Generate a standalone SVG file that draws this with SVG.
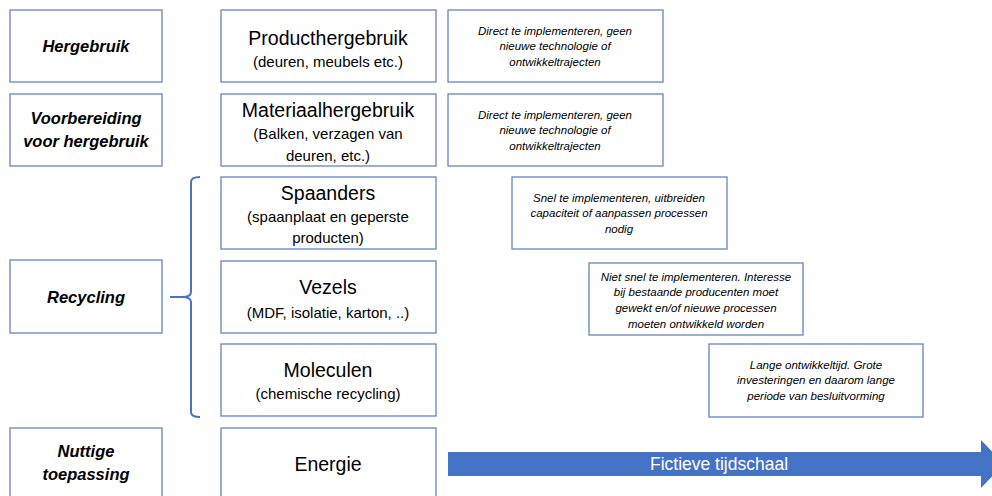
<svg xmlns="http://www.w3.org/2000/svg" width="992" height="496" viewBox="0 0 992 496">
<style>
.box{fill:#fff;stroke:#6585c2;stroke-width:1.3}
.cat{font-family:"Liberation Sans",Arial,sans-serif;font-size:16.5px;font-weight:bold;font-style:italic;fill:#000;text-anchor:middle}
.t1{font-family:"Liberation Sans",Arial,sans-serif;font-size:19.5px;fill:#000;text-anchor:middle}
.t2{font-family:"Liberation Sans",Arial,sans-serif;font-size:15px;fill:#000;text-anchor:middle}
.note{font-family:"Liberation Sans",Arial,sans-serif;font-size:11.5px;font-style:italic;fill:#000;text-anchor:middle}
</style>
<rect width="992" height="496" fill="#fff"/>
<g id="cat-hergebruik"><rect class="box" x="10" y="10" width="152" height="72"/><text class="cat" x="86" y="52">Hergebruik</text></g>
<g id="cat-voorbereiding"><rect class="box" x="10" y="94" width="152" height="72"/><text class="cat" x="86" y="124">Voorbereiding</text><text class="cat" x="86" y="147">voor hergebruik</text></g>
<g id="cat-recycling"><rect class="box" x="10" y="260" width="152" height="73"/><text class="cat" x="86" y="303">Recycling</text></g>
<g id="cat-nuttige"><rect class="box" x="10" y="428" width="152" height="80"/><text class="cat" x="86" y="457">Nuttige</text><text class="cat" x="86" y="480">toepassing</text></g>

<g id="producthergebruik"><rect class="box" x="221" y="10" width="215" height="72"/><text class="t1" x="328" y="45">Producthergebruik</text><text class="t2" x="328" y="67">(deuren, meubels etc.)</text></g>
<g id="materiaalhergebruik"><rect class="box" x="221" y="94" width="215" height="72"/><text class="t1" x="328" y="117">Materiaalhergebruik</text><text class="t2" x="328" y="139">(Balken, verzagen van</text><text class="t2" x="328" y="161">deuren, etc.)</text></g>
<g id="spaanders"><rect class="box" x="221" y="177" width="215" height="72"/><text class="t1" x="328" y="200">Spaanders</text><text class="t2" x="328" y="222">(spaanplaat en geperste</text><text class="t2" x="328" y="243">producten)</text></g>
<g id="vezels"><rect class="box" x="221" y="261" width="215" height="72"/><text class="t1" x="328" y="294">Vezels</text><text class="t2" x="328" y="318">(MDF, isolatie, karton, ..)</text></g>
<g id="moleculen"><rect class="box" x="221" y="344" width="215" height="72"/><text class="t1" x="328" y="377">Moleculen</text><text class="t2" x="328" y="399">(chemische recycling)</text></g>
<g id="energie"><rect class="box" x="221" y="428" width="215" height="80"/><text class="t1" x="328" y="471">Energie</text></g>

<g id="note1"><rect class="box" x="448" y="10" width="215" height="72"/><text class="note" x="555" y="35">Direct te implementeren, geen</text><text class="note" x="555" y="50">nieuwe technologie of</text><text class="note" x="555" y="66">ontwikkeltrajecten</text></g>
<g id="note2"><rect class="box" x="448" y="94" width="215" height="72"/><text class="note" x="555" y="119">Direct te implementeren, geen</text><text class="note" x="555" y="134">nieuwe technologie of</text><text class="note" x="555" y="150">ontwikkeltrajecten</text></g>
<g id="note3"><rect class="box" x="512" y="177" width="215" height="72"/><text class="note" x="619" y="202">Snel te implementeren, uitbreiden</text><text class="note" x="619" y="217">capaciteit of aanpassen processen</text><text class="note" x="619" y="233">nodig</text></g>
<g id="note4"><rect class="box" x="589" y="263" width="214" height="72"/><text class="note" x="696" y="281">Niet snel te implementeren. Interesse</text><text class="note" x="696" y="296">bij bestaande producenten moet</text><text class="note" x="696" y="312">gewekt en/of nieuwe processen</text><text class="note" x="696" y="328">moeten ontwikkeld worden</text></g>
<g id="note5"><rect class="box" x="709" y="344" width="214" height="73"/><text class="note" x="816" y="369">Lange ontwikkeltijd. Grote</text><text class="note" x="816" y="384">investeringen en daarom lange</text><text class="note" x="816" y="400">periode van besluitvorming</text></g>

<g id="connectors">
<path d="M200 177 Q191 177 191 182 L191 292 Q191 297 182 297 L170 297 M182 297 Q191 297 191 302 L191 412 Q191 417 200 417" fill="none" stroke="#4a72c0" stroke-width="2"/>
</g>
<g id="timeline">
<polygon points="448,452 981,452 981,440 1004,464 981,488 981,476 448,476" fill="#4472c4"/>
<text x="719" y="470" font-family="Liberation Sans, Arial, sans-serif" font-size="17.5" fill="#fff" text-anchor="middle">Fictieve tijdschaal</text>
</g>
</svg>
